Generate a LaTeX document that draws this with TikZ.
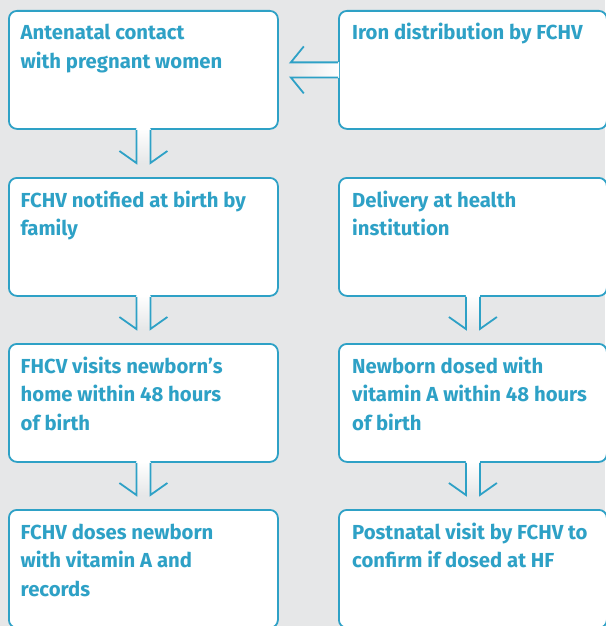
\documentclass[tikz,border=0pt]{standalone}
\usepackage{fontspec}
\setmainfont{Fira Sans}
\usetikzlibrary{calc}
\definecolor{bg}{HTML}{E6E7E8}
\definecolor{bl}{HTML}{2EA1C6}
\newcommand\flowdown[2]{%
  \shade[top color=white, bottom color=bg] ($(#1.south)+(-7,-1.2)$) rectangle ($(#2.north)+(7,-14)$);
  \draw[stem] ($(#1.south)+(-7,0)$) -- ($(#2.north)+(-7,-14)$) -- ++(-17,-12);
  \draw[stem] ($(#1.south)+(7,0)$) -- ($(#2.north)+(7,-14)$) -- ++(17,-12);
}
\newcommand\txtlines[1]{\vtop{\hsize=280pt\parindent=0pt\raggedright #1\par}}
\begin{document}
\begin{tikzpicture}[x=1pt,y=-1pt,
  box/.style={draw=bl, line width=1.8pt, fill=white, rounded corners=8pt, anchor=north west, inner sep=0pt, minimum height=118pt},
  lbox/.style={box, minimum width=269pt},
  rbox/.style={box, minimum width=268pt},
  lbl/.style={anchor=base west, text=bl, font=\bfseries\fontsize{20.3}{28.5}\selectfont, inner sep=0pt},
  stem/.style={draw=bl, line width=1.8pt, line join=miter},
]
\fill[bg] (0,0) rectangle (605,626);
\useasboundingbox (0,0) rectangle (605,626);

\node[lbox] (a1) at (8,10) {};
\node[rbox] (b1) at (338,10) {};
\node[lbox] (a2) at (8,177) {};
\node[rbox] (b2) at (338,177) {};
\node[lbox] (a3) at (8,343) {};
\node[rbox] (b3) at (338,343) {};
\node[lbox] (a4) at (8,509) {};
\node[rbox] (b4) at (338,509) {};

\node[lbl] (a1t) at ($(a1.north west)+(12.5,30)$) {\txtlines{Antenatal contact\\with pregnant women}};
\node[lbl] (b1t) at ($(b1.north west)+(14,30)$) {\txtlines{Iron distribution by FCHV}};
\node[lbl] (a2t) at ($(a2.north west)+(12.5,30)$) {\txtlines{FCHV notified at birth by\\family}};
\node[lbl] (b2t) at ($(b2.north west)+(14,30)$) {\txtlines{Delivery at health\\institution}};
\node[lbl] (a3t) at ($(a3.north west)+(12.5,30)$) {\txtlines{FHCV visits newborn’s\\home within 48 hours\\of birth}};
\node[lbl] (b3t) at ($(b3.north west)+(14,30)$) {\txtlines{Newborn dosed with\\vitamin A within 48 hours\\of birth}};
\node[lbl] (a4t) at ($(a4.north west)+(12.5,30)$) {\txtlines{FCHV doses newborn\\with vitamin A and\\records}};
\node[lbl] (b4t) at ($(b4.north west)+(14,30)$) {\txtlines{Postnatal visit by FCHV to\\confirm if dosed at HF}};

% horizontal arrow b1 -> a1
\shade[left color=bg, right color=white] ($(a1.east)+(12,-7.5)$) rectangle ($(b1.west)+(1.2,7.5)$);
\draw[stem] ($(b1.west)+(0,-7.5)$) -- ($(a1.east)+(12,-7.5)$) -- ++(13,-16);
\draw[stem] ($(b1.west)+(0,7.5)$) -- ($(a1.east)+(12,7.5)$) -- ++(13,16);

\flowdown{a1}{a2}
\flowdown{a2}{a3}
\flowdown{a3}{a4}
\flowdown{b2}{b3}
\flowdown{b3}{b4}
\end{tikzpicture}
\end{document}
